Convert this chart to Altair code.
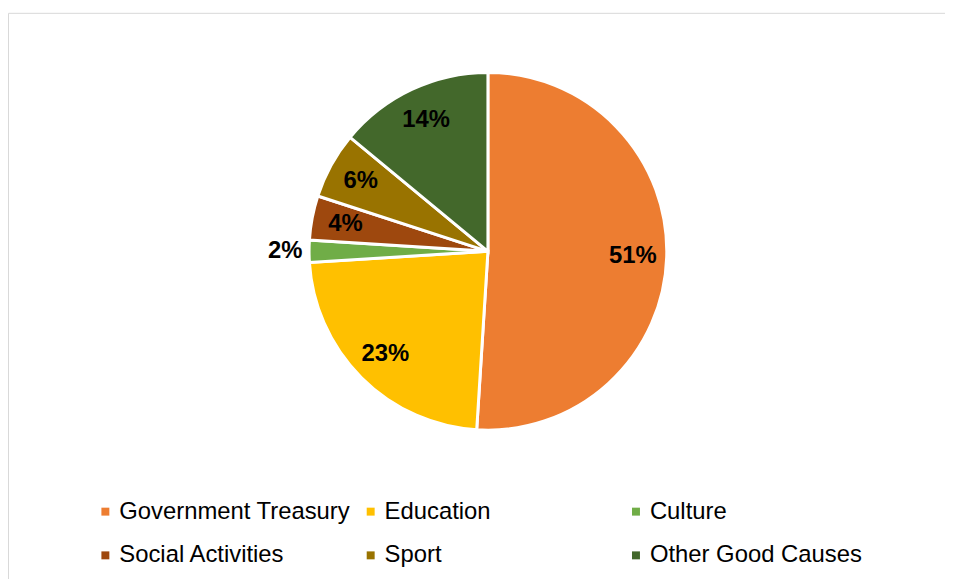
import altair as alt
import pandas as pd

categories = ["Government Treasury", "Education", "Culture", "Social Activities", "Sport", "Other Good Causes"]
shares = [51, 23, 2, 4, 6, 14]
colors = ["#ED7D31", "#FFC000", "#70AD47", "#9E480E", "#997300", "#43682B"]

df = pd.DataFrame({"category": categories, "value": shares, "idx": list(range(len(categories)))})

CX, CY = 483, 240

color = alt.Color(
    "category:N",
    scale=alt.Scale(domain=categories, range=colors),
    legend=alt.Legend(
        title=None,
        orient="none",
        legendX=86,
        legendY=490,
        columns=3,
        direction="horizontal",
        symbolType="square",
        symbolSize=64,
        symbolStrokeWidth=0,
        labelFont="Liberation Sans",
        labelFontSize=24,
        labelColor="#000000",
        labelOffset=2,
        labelLimit=400,
        columnPadding=8,
        rowPadding=20,
        gridAlign="all",
        padding=0,
    ),
)

arcs = alt.Chart(df).mark_arc(outerRadius=180, stroke="#ffffff", strokeWidth=3).encode(
    theta=alt.Theta("value:Q", stack=True),
    order=alt.Order("idx:Q"),
    color=color,
    x=alt.value(CX),
    y=alt.value(CY),
)

labels = alt.Chart(df).transform_window(
    cum="sum(value)", sort=[alt.SortField("idx")], frame=[None, 0]
).transform_joinaggregate(
    total="sum(value)"
).transform_calculate(
    mid="(datum.cum - datum.value / 2) / datum.total",
    label="datum.value + '%'",
    r="datum.value < 3 ? 204 : 146",
).mark_text(
    font="Liberation Sans", fontSize=24, fontWeight="bold", color="#000000"
).encode(
    theta=alt.Theta("mid:Q", stack=None, scale=alt.Scale(domain=[0, 1], range=[0, 6.283185307])),
    text="label:N",
    radius=alt.Radius("r:Q", scale=None),
    x=alt.value(CX),
    y=alt.value(CY),
)

chart = (
    alt.layer(arcs, labels)
    .resolve_scale(theta="independent")
    .properties(
        width=943,
        height=580,
        padding={"left": 0, "top": 3, "right": 0, "bottom": 0},
        autosize=alt.AutoSizeParams(type="none"),
    )
    .configure_view(stroke="#D9D9D9", strokeWidth=1)
)

chart.save("out.html", embed_options={"renderer": "svg", "actions": False})
